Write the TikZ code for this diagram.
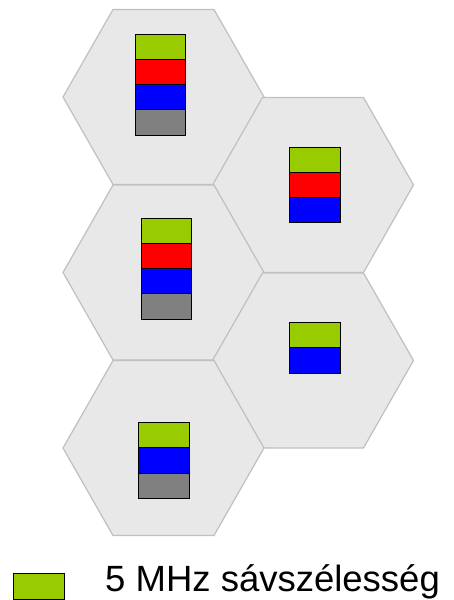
\documentclass[tikz,border=0pt]{standalone}
\usepackage{fontspec}
\setmainfont{Liberation Sans}
\usepackage{tikz}
\definecolor{cellfill}{HTML}{E8E8E8}
\definecolor{celledge}{HTML}{C0C0C0}
\definecolor{bandgreen}{HTML}{99CC00}
\definecolor{bandgray}{HTML}{808080}
\tikzset{cell/.style={fill=cellfill,draw=celledge,line width=1.2pt,line join=miter},
  band/.style={draw=black,line width=1pt}}

\begin{document}
\begin{tikzpicture}[x=1pt,y=-1pt]
\useasboundingbox (0,0) rectangle (453,600);
% hexagonal cells
\foreach \cx/\cy in {163.5/97,313/185,163.5/272.5,313/360.5,163.5/448}
  \draw[cell] (\cx-100.5,\cy)--(\cx-50.5,\cy-87.5)--(\cx+50.5,\cy-87.5)--(\cx+100.5,\cy)
    --(\cx+50.5,\cy+87.5)--(\cx-50.5,\cy+87.5)--cycle;
% carrier stacks
\foreach \bx/\by/\cols in {135/34.3/{bandgreen,red,blue,bandgray},
    289.3/147.3/{bandgreen,red,blue},
    141/218.3/{bandgreen,red,blue,bandgray},
    289.3/322.7/{bandgreen,blue},
    138.7/422.7/{bandgreen,blue,bandgray}}
  \foreach \c [count=\i from 0] in \cols
    \draw[band,fill=\c] (\bx,\by+25.2*\i) rectangle ++(50.7,25.2);
% legend
\draw[band,fill=bandgreen] (13.3,573.3) rectangle (64.3,599);
\node[anchor=base west,inner sep=0pt,font=\fontsize{36.5}{40}\selectfont] (legend) at (105,591.5) {5 MHz sávszélesség};
\end{tikzpicture}
\end{document}
